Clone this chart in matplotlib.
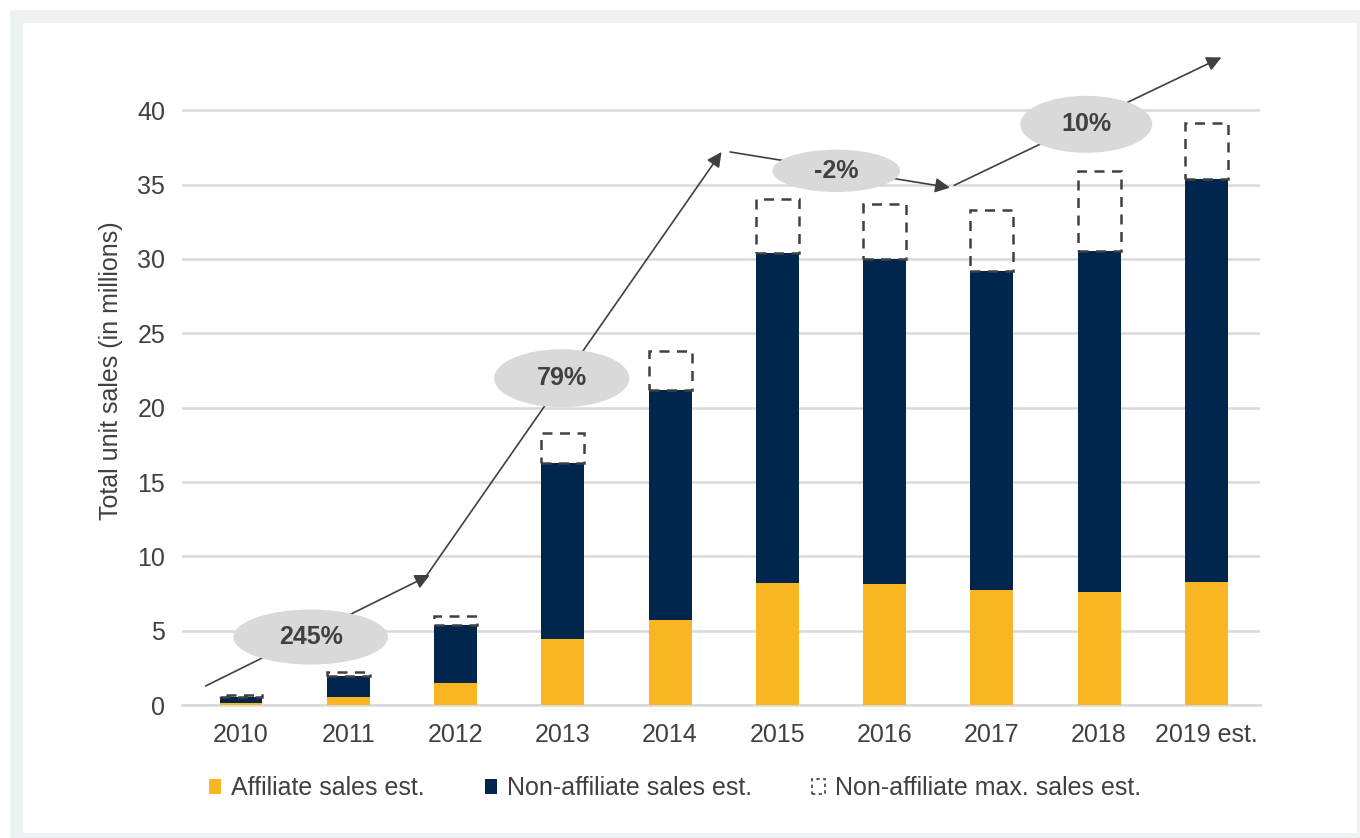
import matplotlib.pyplot as plt
from matplotlib.patches import Ellipse, Patch, Rectangle

plt.rcParams['font.family'] = ['Liberation Sans', 'DejaVu Sans']

# Data (millions of units)
years = ['2010', '2011', '2012', '2013', '2014', '2015', '2016', '2017', '2018', '2019 est.']
affiliate = [0.15, 0.56, 1.5, 4.44, 5.71, 8.2, 8.13, 7.73, 7.62, 8.29]
non_affiliate = [0.4, 1.39, 3.88, 11.86, 15.49, 22.17, 21.9, 21.47, 22.92, 27.11]
non_affiliate_max = [0.1, 0.25, 0.6, 2.0, 2.6, 3.69, 3.7, 4.08, 5.36, 3.75]

# Growth callouts: label, ellipse centre/size, arrow start, arrow end
growth_labels = ['245%', '79%', '-2%', '10%']
bubble_x = [0.65, 2.99, 5.55, 7.88]
bubble_y = [4.57, 21.98, 35.93, 39.06]
bubble_w = [1.44, 1.26, 1.19, 1.23]
bubble_h = [3.7, 3.9, 2.85, 3.83]
arrow_start = [(-0.33, 1.28), (1.72, 8.6), (4.56, 37.2), (6.65, 34.96)]
arrow_end = [(1.76, 8.74), (4.48, 37.2), (6.61, 34.8), (9.14, 43.56)]

orange = '#F9B522'
navy = '#00264D'
text_col = '#404040'

fig = plt.figure(figsize=(13.6, 8.38), dpi=100)

# grey frame around the chart
W, H = 1360, 838
fig.patches.append(Rectangle((10 / W, 0), 1 - 10 / W, 1 - 10 / H, transform=fig.transFigure,
                             facecolor='#EEF1F1', edgecolor='none', zorder=-2))
fig.patches.append(Rectangle((23 / W, 5 / H), (1357 - 23) / W, (833 - 23) / H, transform=fig.transFigure,
                             facecolor='white', edgecolor='none', zorder=-1))

ax = fig.add_axes([182 / W, 1 - 705 / H, (1260 - 182) / W, (705 - 36) / H])
ax.set_facecolor('none')

x = list(range(len(years)))
navy_top = [a + b for a, b in zip(affiliate, non_affiliate)]
ax.bar(x, affiliate, width=0.4, color=orange, zorder=3)
ax.bar(x, non_affiliate, width=0.4, bottom=affiliate, color=navy, zorder=3)
ax.bar(x, non_affiliate_max, width=0.4, bottom=navy_top, fill=False, edgecolor=text_col,
       linestyle=(0, (4, 3)), linewidth=1.8, zorder=3)

ax.set_xlim(-0.55, 9.5)
ax.set_ylim(0, 45)
ax.set_yticks(range(0, 41, 5))
ax.set_xticks(x)
ax.set_xticklabels(years)
ax.grid(axis='y', color='#D9D9D9', linewidth=1.8, zorder=0)
ax.set_axisbelow(True)
for s in ['top', 'right', 'left']:
    ax.spines[s].set_visible(False)
ax.spines['bottom'].set_color('#D9D9D9')
ax.spines['bottom'].set_linewidth(1.8)
ax.tick_params(axis='both', length=0, labelsize=18, colors=text_col)
ax.tick_params(axis='x', pad=13)
ax.tick_params(axis='y', pad=12)
ax.set_ylabel('Total unit sales (in millions)', fontsize=18, color=text_col, labelpad=10)

# growth arrows and bubbles
for s, e in zip(arrow_start, arrow_end):
    ax.annotate('', xy=e, xytext=s,
                arrowprops=dict(arrowstyle='-|>', color=text_col, lw=1.2, mutation_scale=22,
                                shrinkA=0, shrinkB=0), zorder=4)
for lab, bx, by, bw, bh in zip(growth_labels, bubble_x, bubble_y, bubble_w, bubble_h):
    ax.add_patch(Ellipse((bx, by), bw, bh, facecolor='#D9D9D9', edgecolor='none', zorder=5))
    ax.text(bx, by, lab, ha='center', va='center', fontsize=18, fontweight='bold',
            color=text_col, zorder=6)

handles = [Patch(facecolor=orange, edgecolor='none'),
           Patch(facecolor=navy, edgecolor='none'),
           Patch(facecolor='none', edgecolor=text_col, linestyle=(0, (2, 2)), linewidth=1.2)]
fig.legend(handles, ['Affiliate sales est.', 'Non-affiliate sales est.', 'Non-affiliate max. sales est.'],
           loc='center left', bbox_to_anchor=(186 / W, 1 - 788 / H), ncol=3, frameon=False,
           fontsize=18, labelcolor=text_col, handlelength=0.5, handleheight=0.55,
           handletextpad=0.4, columnspacing=2.4)

fig.savefig('out.png', dpi=100)
